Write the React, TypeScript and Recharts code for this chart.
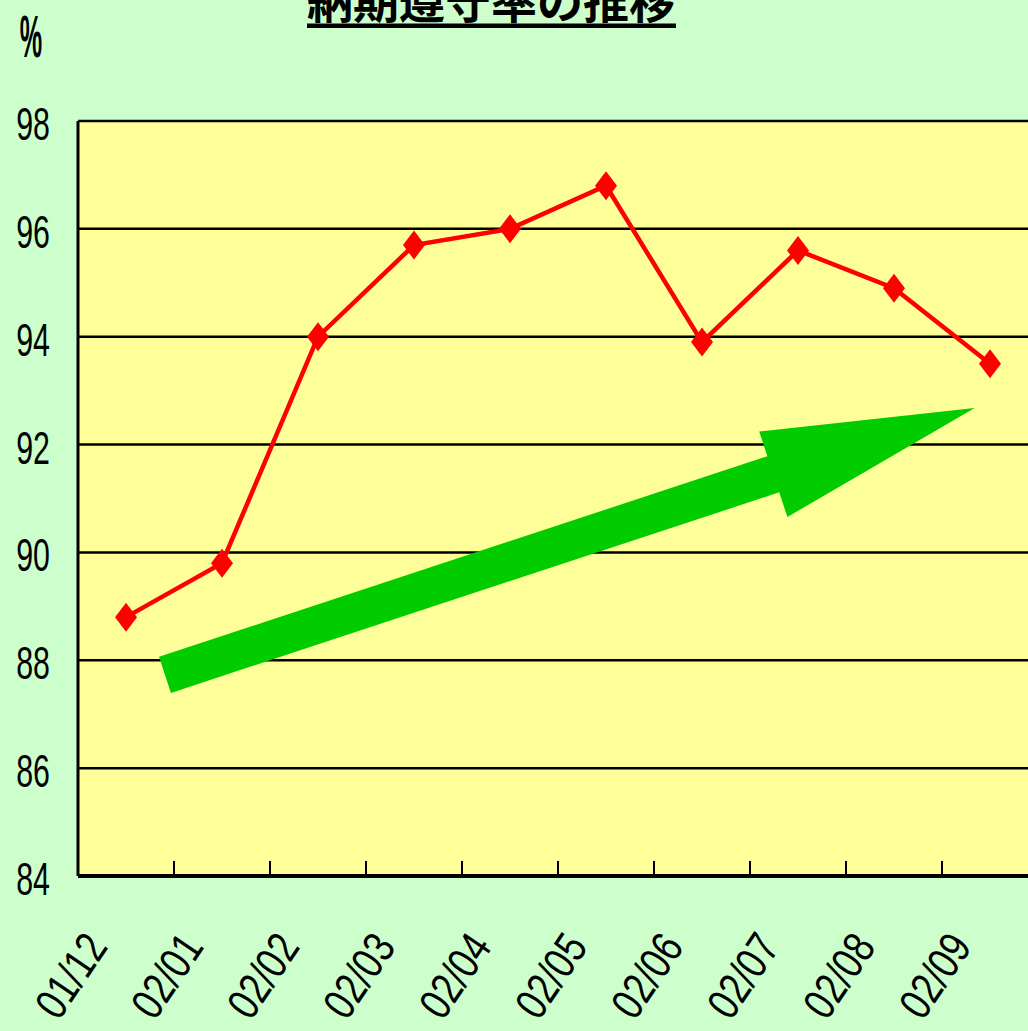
import React from 'react';
import { LineChart, Line, XAxis, YAxis, CartesianGrid, ReferenceLine } from 'recharts';

const months = ['01/12', '02/01', '02/02', '02/03', '02/04', '02/05', '02/06', '02/07', '02/08', '02/09'];
const rates = [88.8, 89.8, 94.0, 95.7, 96.0, 96.8, 93.9, 95.6, 94.9, 93.5];
const yTicks = [84, 86, 88, 90, 92, 94, 96, 98];
const labelPositions = [0.5, 1.5, 2.5, 3.5, 4.5, 5.5, 6.5, 7.5, 8.5, 9.5];
const boundaryTicks = [1, 2, 3, 4, 5, 6, 7, 8, 9];
const trendStart = { x: 0.906, y: 87.73 };
const trendEnd = { x: 9.34, y: 92.68 };
const title = '納期遵守率の推移';
const unitLabel = '%';

const data = months.map((m, i) => ({ x: labelPositions[i], month: m, rate: rates[i] }));

const Diamond = (props: any) => {
  const { cx, cy } = props;
  if (cx == null || cy == null) return null;
  const w = 11, h = 14.5;
  return (
    <polygon
      points={`${cx},${cy - h} ${cx + w},${cy} ${cx},${cy + h} ${cx - w},${cy}`}
      fill="#FF0000"
      stroke="none"
    />
  );
};

const ArrowShape = (p: any) => {
  const { x1, y1, x2, y2 } = p;
  const dx = x2 - x1, dy = y2 - y1;
  const L = Math.hypot(dx, dy);
  const ux = dx / L, uy = dy / L;
  const nx = -uy, ny = ux;
  const shaftW = 19, headW = 45, headL = 212;
  const bx = x2 - ux * headL, by = y2 - uy * headL;
  const pts = [
    [x1 + nx * shaftW, y1 + ny * shaftW],
    [bx + nx * shaftW, by + ny * shaftW],
    [bx + nx * headW, by + ny * headW],
    [x2, y2],
    [bx - nx * headW, by - ny * headW],
    [bx - nx * shaftW, by - ny * shaftW],
    [x1 - nx * shaftW, y1 - ny * shaftW],
  ];
  return <polygon points={pts.map((q) => q.join(',')).join(' ')} fill="#00CC00" stroke="none" />;
};

const YTick = (props: any) => {
  const { x, y, payload } = props;
  return (
    <g transform={`translate(${x},${y + 19}) scale(0.66,1)`}>
      <text x={0} y={0} textAnchor="end" fontSize={46} fontFamily="'Liberation Sans', Arial, sans-serif" fill="#000">
        {payload.value}
      </text>
    </g>
  );
};

const XTick = (props: any) => {
  const { x, y, payload } = props;
  const label = months[Math.floor(payload.value)];
  return (
    <g transform={`translate(${x - 17},${y + 71}) rotate(-56)`}>
      <text x={0} y={0} textAnchor="end" fontSize={45} transform="scale(0.8,1)" fontFamily="'Liberation Sans', Arial, sans-serif" fill="#000">
        {label}
      </text>
    </g>
  );
};

export default function App() {
  return (
    <div style={{ position: 'absolute', left: 0, top: 0, width: 1028, height: 1031, overflow: 'hidden', background: '#CCFFCC' }}>
      <LineChart width={1050} height={1031} data={data} margin={{ top: 121, right: 12, left: 0, bottom: 0 }}>
        <CartesianGrid horizontal vertical={false} stroke="#000" strokeWidth={2.5} fill="#FFFF99" fillOpacity={1} />
        <XAxis
          dataKey="x"
          type="number"
          domain={[0, 10]}
          ticks={labelPositions}
          interval={0}
          height={155}
          tickLine={false}
          tickSize={0}
          tickMargin={0}
          axisLine={{ stroke: '#000', strokeWidth: 4 }}
          tick={<XTick />}
        />
        <YAxis
          type="number"
          domain={[84, 98]}
          ticks={yTicks}
          interval={0}
          width={78}
          tickLine={false}
          tickSize={0}
          tickMargin={28}
          axisLine={{ stroke: '#000', strokeWidth: 3 }}
          tick={<YTick />}
        />
        {boundaryTicks.map((b) => (
          <ReferenceLine key={b} segment={[{ x: b, y: 84 }, { x: b, y: 84.28 }]} stroke="#000" strokeWidth={2} />
        ))}
        <ReferenceLine segment={[trendStart, trendEnd]} shape={ArrowShape} />
        <Line
          type="linear"
          dataKey="rate"
          stroke="#FF0000"
          strokeWidth={4.5}
          dot={<Diamond />}
          activeDot={false}
          isAnimationActive={false}
        />
      </LineChart>
      <svg width={1028} height={70} style={{ position: 'absolute', left: 0, top: 0, pointerEvents: 'none' }}>
        <text x={491} y={18} textAnchor="middle" fontSize={46} fontWeight="bold" fontFamily="'Noto Sans CJK JP', sans-serif" fill="#000">
          {title}
        </text>
        <rect x={307} y={23.5} width={369} height={4.5} fill="#000" />
        <g transform="translate(31,57) scale(0.42,1)">
          <text x={0} y={0} textAnchor="middle" fontSize={60} fontWeight="bold" fontFamily="'Liberation Sans', Arial, sans-serif" fill="#000">
            {unitLabel}
          </text>
        </g>
      </svg>
    </div>
  );
}
